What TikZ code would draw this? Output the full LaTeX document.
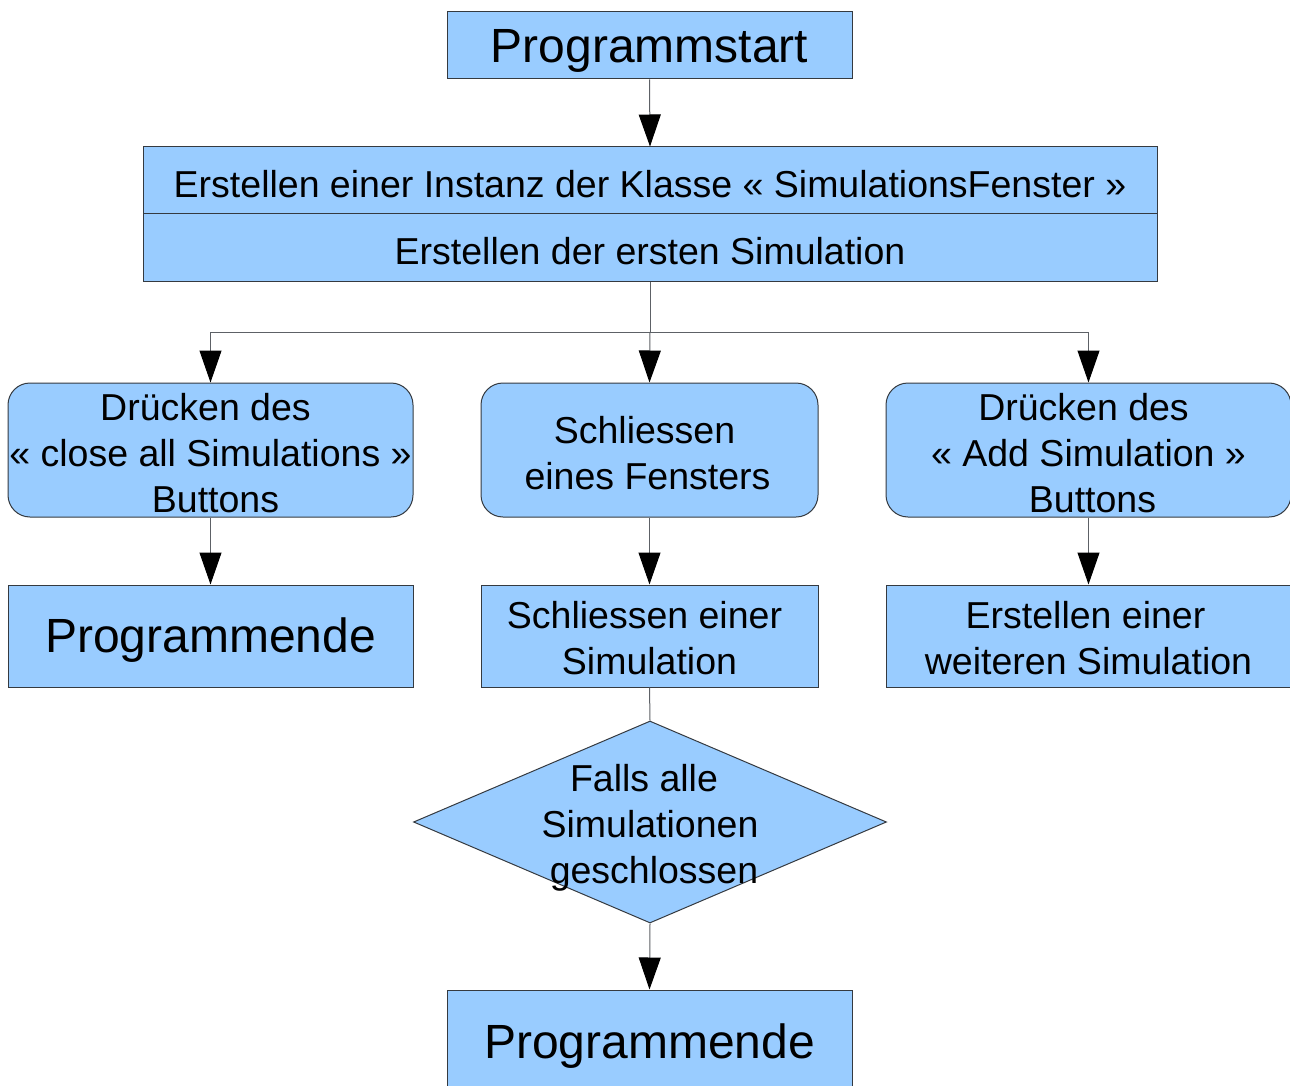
\documentclass[tikz,border=0pt]{standalone}
\usepackage{fontspec}
\setmainfont{Liberation Sans}
\usetikzlibrary{arrows.meta,shapes.geometric}
\definecolor{boxfill}{HTML}{99CCFF}
\definecolor{boxline}{HTML}{353A40}
\tikzset{
  box/.style={draw=boxline,fill=boxfill,line width=1pt,rectangle,inner sep=0pt,align=center,
    font=\fontsize{37.5}{46}\selectfont,execute at begin node={\rule{0pt}{0.9em}}},
  mbox/.style={draw=boxline,fill=boxfill,line width=1pt,rectangle,inner sep=0pt},
  rbox/.style={mbox,rounded corners=22pt},
  txt/.style={font=\fontsize{37.5}{46}\selectfont,align=center,inner sep=0pt,yshift=-3pt},
  bigtext/.style={font=\fontsize{48}{56}\selectfont},
  dia/.style={draw=boxline,fill=boxfill,line width=1pt,diamond,inner sep=0pt},
  conn/.style={draw=boxline!80,line width=1pt},
  arr/.style={conn,-{Triangle[length=32pt,width=22pt,fill=black,color=black]}}
}
\begin{document}
\begin{tikzpicture}[x=1pt,y=-1pt]
\useasboundingbox (0,0) rectangle (1290,1086);
\clip (0,0) rectangle (1290,1086);
\node[box,bigtext,minimum width=405pt,minimum height=67pt] (start) at (649.5,45.5) {Programmstart};
\node[box,minimum width=1014pt,minimum height=67pt] (inst) at (650,180.5) {Erstellen einer Instanz der Klasse « SimulationsFenster »};
\node[box,minimum width=1014pt,minimum height=67pt] (sim1) at (650,247.5) {Erstellen der ersten Simulation};
\coordinate (split) at (650,332);
\node[rbox,minimum width=405pt,minimum height=134pt,
  label={[txt]center:{Drücken des\hspace*{10pt}\\« close all Simulations »\\\hspace*{10pt}Buttons}}] (close) at (210.5,450) {};
\node[rbox,minimum width=337pt,minimum height=134pt,
  label={[txt]center:{Schliessen\hspace*{10pt}\\eines Fensters\hspace*{4pt}}}] (win) at (649.5,450) {};
\node[rbox,minimum width=405pt,minimum height=134pt,
  label={[txt]center:{Drücken des\hspace*{10pt}\\« Add Simulation »\\\hspace*{8pt}Buttons}}] (add) at (1088.5,450) {};
\node[box,bigtext,minimum width=405pt,minimum height=102pt] (end1) at (210.5,636) {Programmende};
\node[mbox,minimum width=337pt,minimum height=102pt,
  label={[txt,yshift=0.5pt]center:{Schliessen einer\hspace*{10pt}\\Simulation}}] (simc) at (649.5,636) {};
\node[mbox,minimum width=405pt,minimum height=102pt,
  label={[txt,yshift=0.5pt]center:{Erstellen einer\hspace*{6pt}\\weiteren Simulation}}] (simn) at (1088.5,636) {};
\node[dia,minimum width=473pt,minimum height=202pt,aspect=2.34,
  label={[txt,yshift=-3pt]center:{Falls alle\hspace*{12pt}\\Simulationen\\\hspace*{8pt}geschlossen}}] (falls) at (650,822) {};
\node[box,bigtext,minimum width=405pt,minimum height=104pt] (end2) at (649.5,1042) {Programmende};
\draw[arr] (start.south) -- (inst.north);
\draw[conn] (sim1.south) -- (split);
\draw[arr] (split) -- (win.north);
\draw[arr] (split) -| (close.north);
\draw[arr] (split) -| (add.north);
\draw[arr] (close.south) -- (end1.north);
\draw[arr] (win.south) -- (simc.north);
\draw[arr] (add.south) -- (simn.north);
\draw[conn] (simc.south) -- (falls.north);
\draw[arr] (falls.south) -- (end2.north);
\end{tikzpicture}
\end{document}
